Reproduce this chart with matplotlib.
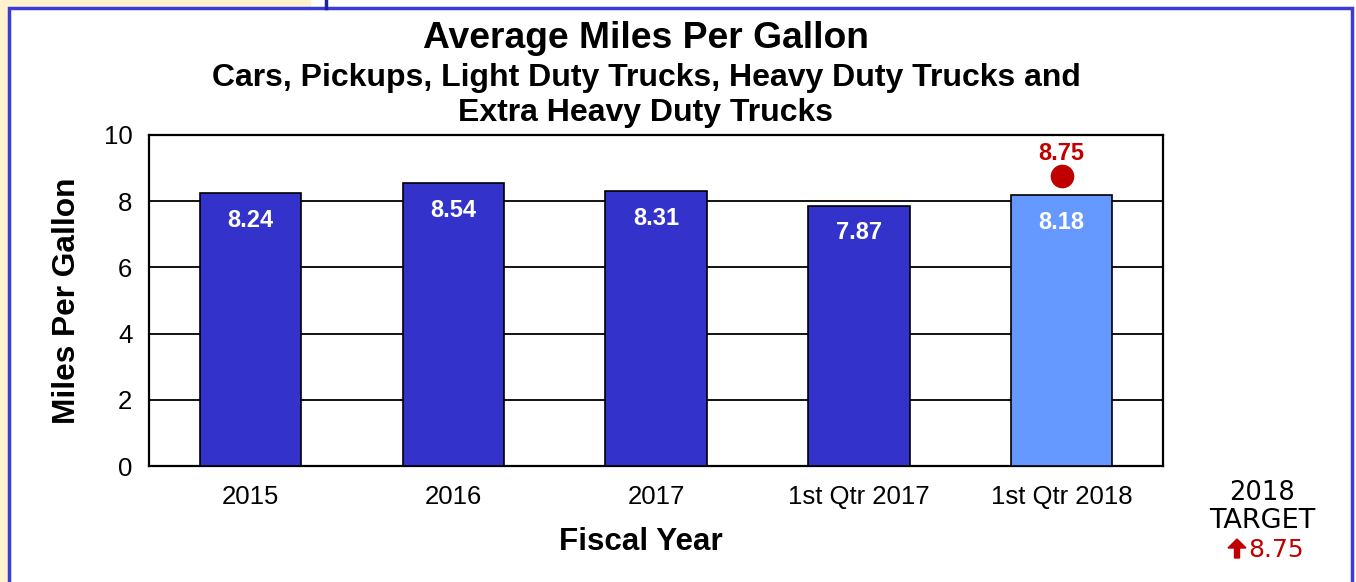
import matplotlib
matplotlib.use("Agg")
import matplotlib.pyplot as plt
from matplotlib.patches import Rectangle, Polygon
from matplotlib.lines import Line2D

categories = ["2015", "2016", "2017", "1st Qtr 2017", "1st Qtr 2018"]
values = [8.24, 8.54, 8.31, 7.87, 8.18]
target_value = 8.75
yticks = [0, 2, 4, 6, 8, 10]

dark = "#3333CC"
light = "#6699FF"
red = "#C00000"

plt.rcParams['font.family'] = ['Liberation Sans', 'DejaVu Sans']

W, H = 1356, 582
fig = plt.figure(figsize=(W / 100, H / 100), dpi=100)


def fx(px):
    return px / W


def fy(py):
    return 1 - py / H


# background decorations
fig.patches.append(Rectangle((0, 0), fx(8), 1, transform=fig.transFigure, color="#FFF2CC", zorder=0))
fig.patches.append(Rectangle((0, fy(8)), fx(310), 8 / H, transform=fig.transFigure, color="#FFF2CC", zorder=0))
fig.lines.append(Line2D([fx(326), fx(326)], [1, fy(8)], transform=fig.transFigure, color="#1F1FA0", lw=2.5))
fig.patches.append(Rectangle((fx(8.5), -0.05), fx(1352 - 8.5), 1.05 - 7.5 / H, transform=fig.transFigure,
                             fill=False, edgecolor="#3B3BD6", lw=2.5, zorder=1))

ax = fig.add_axes([fx(149), fy(466), fx(1163 - 149), (466 - 135) / H])
x = list(range(len(categories)))
colors = [dark] * 4 + [light]
ax.bar(x, values, width=0.5, color=colors, edgecolor="black", linewidth=1.2, zorder=3)
ax.set_xlim(-0.5, len(categories) - 0.5)
ax.set_ylim(0, 10)
ax.set_yticks(yticks)
ax.yaxis.grid(True, color="black", linewidth=1.3, zorder=0)
ax.set_axisbelow(True)
for s in ax.spines.values():
    s.set_linewidth(1.6)
    s.set_color("black")
ax.tick_params(axis="both", length=0, labelsize=18.5)
ax.tick_params(axis="y", pad=12)
ax.set_xticks(x)
ax.set_xticklabels(categories)
ax.tick_params(axis="x", pad=14)

for xi, v in zip(x, values):
    ax.text(xi, v - 0.82, f"{v:.2f}", ha="center", va="center", color="white",
            fontsize=17, fontweight="bold", zorder=4)

ax.plot([x[-1]], [target_value], "o", color=red, markersize=16, zorder=5)
ax.text(x[-1], target_value + 0.7, f"{target_value:.2f}", ha="center", va="center",
        color=red, fontsize=17, fontweight="bold", zorder=5)

ax.set_ylabel("Miles Per Gallon", fontsize=22.8, fontweight="bold")
ax.yaxis.set_label_coords(fx(67 - 149) / fx(1163 - 149), 0.5)
ax.set_xlabel("Fiscal Year", fontsize=22.6, fontweight="bold")
ax.xaxis.set_label_coords(0.485, -(542 - 466) / (466 - 135))
ax.xaxis.label.set_va("center")
ax.yaxis.label.set_va("center")

fig.text(fx(646), fy(38), "Average Miles Per Gallon", ha="center", va="center",
         fontsize=26.8, fontweight="bold")
fig.text(fx(646), fy(78), "Cars, Pickups, Light Duty Trucks, Heavy Duty Trucks and",
         ha="center", va="center", fontsize=23, fontweight="bold")
fig.text(fx(646), fy(113), "Extra Heavy Duty Trucks",
         ha="center", va="center", fontsize=23, fontweight="bold")

side_font = ["DejaVu Sans"]
fig.text(fx(1262), fy(493), "2018", ha="center", va="center", fontsize=18.5, family=side_font)
fig.text(fx(1262), fy(521), "TARGET", ha="center", va="center", fontsize=19.5, family=side_font)
arrow_px = [(1234.5, 558), (1234.5, 548), (1228, 548), (1237, 539), (1246, 548), (1239.5, 548), (1239.5, 558)]
fig.patches.append(Polygon([(fx(a), fy(b)) for a, b in arrow_px], closed=True, transform=fig.transFigure,
                           color=red, zorder=3))
fig.text(fx(1248), fy(550), f"{target_value:.2f}", ha="left", va="center", fontsize=18, color=red,
         family=side_font)

fig.savefig("out.png", dpi=100)
